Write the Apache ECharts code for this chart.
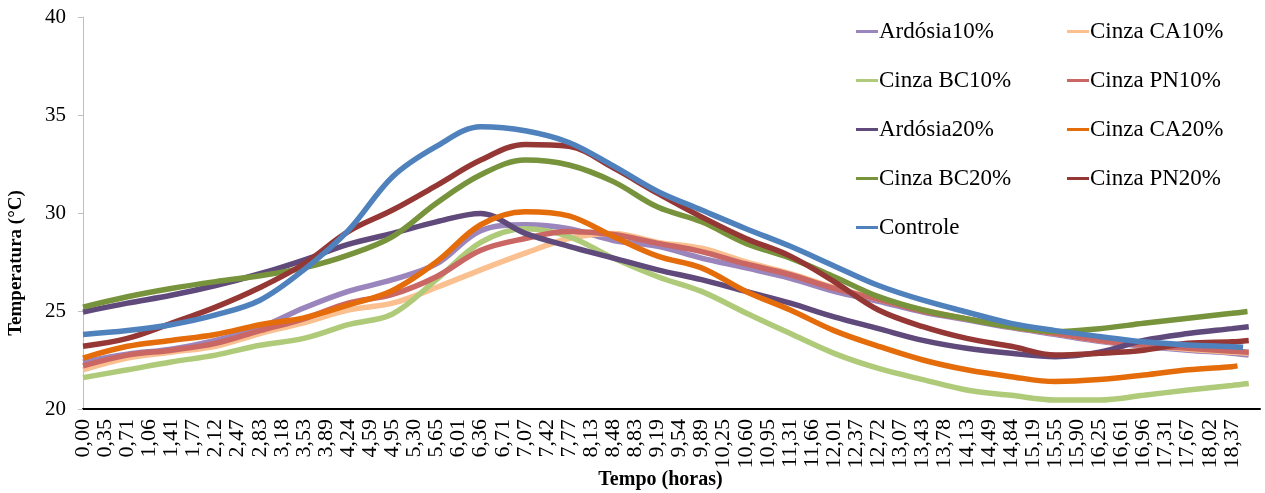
<!DOCTYPE html>
<html>
<head>
<meta charset="utf-8">
<script src="https://cdn.jsdelivr.net/npm/echarts@6/dist/echarts.min.js"></script>
<style>
html, body { margin: 0; padding: 0; background: #fff; }
#chart { width: 1265px; height: 493px; }
</style>
</head>
<body>
<div id="chart"></div>
<script>
// rótulos do eixo x (horas)
var tickLabels = ['0,00','0,35','0,71','1,06','1,41','1,77','2,12','2,47','2,83','3,18','3,53','3,89',
    '4,24','4,59','4,95','5,30','5,65','6,01','6,36','6,71','7,07','7,42','7,77','8,13','8,48','8,83',
    '9,19','9,54','9,89','10,25','10,60','10,95','11,31','11,66','12,01','12,37','12,72','13,07','13,43',
    '13,78','14,13','14,49','14,84','15,19','15,55','15,90','16,25','16,61','16,96','17,31','17,67',
    '18,02','18,37'];
var tickStep = 18.37 / 52;

// instantes lidos (horas); o último é substituído pelo fim de cada série
var hours = [0, 0.71, 1.41, 2.12, 2.83, 3.53, 4.24, 4.95, 5.65, 6.36, 7.07, 7.77, 8.48, 9.19, 9.89,
    10.60, 11.31, 12.01, 12.72, 13.43, 14.13, 14.84, 15.55, 16.25, 16.96, 17.67, 18.37, 18.62];

var ardosia10 = [22.4, 22.8, 23.05, 23.5, 24.15, 25.15, 26.0, 26.6, 27.4, 29.1, 29.4, 29.2, 28.6, 28.3,
    27.7, 27.2, 26.67, 26.0, 25.5, 24.95, 24.55, 24.15, 23.8, 23.45, 23.2, 23.0, 22.85, 22.75];
var cinzaCA10 = [22.0, 22.6, 22.9, 23.2, 23.85, 24.4, 25.05, 25.4, 26.2, 27.1, 27.95, 28.7, 28.96, 28.5,
    28.2, 27.5, 26.9, 26.2, 25.6, 25.05, 24.6, 24.2, 23.85, 23.5, 23.25, 23.05, 22.9, 22.85];
var cinzaBC10 = [21.6, 22.0, 22.4, 22.75, 23.25, 23.6, 24.3, 24.85, 26.6, 28.5, 29.2, 28.8, 27.7, 26.75,
    26.0, 24.9, 23.85, 22.84, 22.07, 21.5, 20.97, 20.7, 20.46, 20.46, 20.7, 20.97, 21.2, 21.3];
var cinzaPN10 = [22.2, 22.75, 23.0, 23.35, 24.0, 24.6, 25.4, 25.85, 26.75, 28.1, 28.7, 29.05, 28.9, 28.45,
    28.03, 27.4, 26.85, 26.15, 25.6, 25.0, 24.6, 24.2, 23.85, 23.5, 23.25, 23.1, 22.95, 22.9];
var ardosia20 = [24.95, 25.4, 25.8, 26.3, 26.9, 27.6, 28.4, 28.96, 29.55, 29.98, 28.96, 28.3, 27.7, 27.1,
    26.6, 26.0, 25.4, 24.7, 24.1, 23.5, 23.1, 22.84, 22.67, 22.9, 23.5, 23.85, 24.1, 24.2];
var cinzaCA20 = [22.6, 23.2, 23.5, 23.8, 24.3, 24.65, 25.3, 26.05, 27.5, 29.4, 30.07, 29.85, 28.8, 27.8,
    27.2, 26.0, 25.05, 24.0, 23.2, 22.5, 22.0, 21.65, 21.4, 21.5, 21.73, 22.0, 22.16, 22.2];
var cinzaBC20 = [25.2, 25.73, 26.15, 26.5, 26.8, 27.2, 27.85, 28.8, 30.5, 31.95, 32.7, 32.45, 31.6, 30.3,
    29.55, 28.45, 27.7, 26.75, 25.73, 25.05, 24.6, 24.2, 23.95, 24.1, 24.37, 24.63, 24.88, 24.97];
var cinzaPN20 = [23.2, 23.6, 24.37, 25.2, 26.2, 27.4, 29.05, 30.15, 31.4, 32.7, 33.5, 33.4, 32.3, 31.0,
    29.8, 28.7, 27.8, 26.5, 25.05, 24.2, 23.6, 23.2, 22.75, 22.84, 23.0, 23.35, 23.43, 23.5];
var controle = [23.8, 24.0, 24.3, 24.8, 25.55, 27.1, 29.1, 31.85, 33.4, 34.4, 34.2, 33.6, 32.4, 31.1,
    30.15, 29.2, 28.3, 27.3, 26.3, 25.55, 24.95, 24.37, 24.0, 23.7, 23.43, 23.27, 23.18, 23.15];

var seriesNames = ['Ardósia10%', 'Cinza CA10%', 'Cinza BC10%', 'Cinza PN10%', 'Ardósia20%',
    'Cinza CA20%', 'Cinza BC20%', 'Cinza PN20%', 'Controle'];
var seriesValues = [ardosia10, cinzaCA10, cinzaBC10, cinzaPN10, ardosia20, cinzaCA20, cinzaBC20, cinzaPN20, controle];
var seriesColors = ['#9A85BC', '#FAC090', '#AFCB7A', '#CA6663', '#604A7B', '#E46C0A', '#77933C', '#953735', '#4F81BD'];
var lastHour = [18.64, 18.64, 18.64, 18.64, 18.64, 18.46, 18.62, 18.64, 18.55];

var serif = 'Liberation Serif, Times New Roman, serif';

var series = seriesNames.map(function (name, k) {
    var vals = seriesValues[k];
    return {
        name: name,
        type: 'line',
        symbol: 'none',
        smooth: 0.35,
        lineStyle: {width: 5.5, color: seriesColors[k]},
        itemStyle: {color: seriesColors[k]},
        data: vals.map(function (v, i) {
            return [i === vals.length - 1 ? lastHour[k] : hours[i], v];
        })
    };
});

var legendBase = {
    orient: 'vertical',
    top: 20,
    padding: 0,
    icon: 'rect',
    itemWidth: 22,
    itemHeight: 3,
    itemGap: 26,
    textStyle: {fontFamily: serif, fontSize: 23, lineHeight: 23, color: '#000', padding: [0, 0, 0, -4]}
};

var chart = echarts.init(document.getElementById('chart'));
chart.setOption({
    animation: false,
    backgroundColor: '#fff',
    grid: {left: 83, right: 5, top: 17, bottom: 84, outerBoundsMode: 'none', containLabel: false},
    legend: [
        Object.assign({}, legendBase, {left: 856, data: ['Ardósia10%', 'Cinza BC10%', 'Ardósia20%', 'Cinza BC20%', 'Controle']}),
        Object.assign({}, legendBase, {left: 1067, data: ['Cinza CA10%', 'Cinza PN10%', 'Cinza CA20%', 'Cinza PN20%']})
    ],
    xAxis: {
        type: 'value',
        min: 0,
        max: 18.82,
        interval: tickStep,
        name: 'Tempo (horas)',
        nameLocation: 'middle',
        nameGap: 61,
        nameMoveOverlap: false,
        nameTextStyle: {fontFamily: serif, fontSize: 20, fontWeight: 'bold', color: '#000', padding: [0, 22, 0, 0]},
        axisLine: {lineStyle: {color: '#000', width: 2}},
        axisTick: {show: false},
        splitLine: {show: false},
        axisLabel: {
            rotate: 90,
            margin: 10,
            fontFamily: serif,
            fontSize: 22,
            color: '#000',
            formatter: function (v) {
                var i = Math.round(v / tickStep);
                if (i < tickLabels.length && Math.abs(v - i * tickStep) < 0.01) {
                    return tickLabels[i];
                }
                return '';
            }
        }
    },
    yAxis: {
        type: 'value',
        min: 20,
        max: 40,
        interval: 5,
        name: 'Temperatura (°C)',
        nameLocation: 'middle',
        nameGap: 57,
        nameRotate: 90,
        nameMoveOverlap: false,
        nameTextStyle: {fontFamily: serif, fontSize: 19, fontWeight: 'bold', color: '#000', padding: [0, 100, 0, 0]},
        axisLine: {show: true, lineStyle: {color: '#BFBFBF', width: 1}},
        axisTick: {show: true, length: 5, lineStyle: {color: '#BFBFBF'}},
        splitLine: {show: false},
        axisLabel: {margin: 17, fontFamily: serif, fontSize: 21, color: '#000'}
    },
    series: series
});
</script>
</body>
</html>
